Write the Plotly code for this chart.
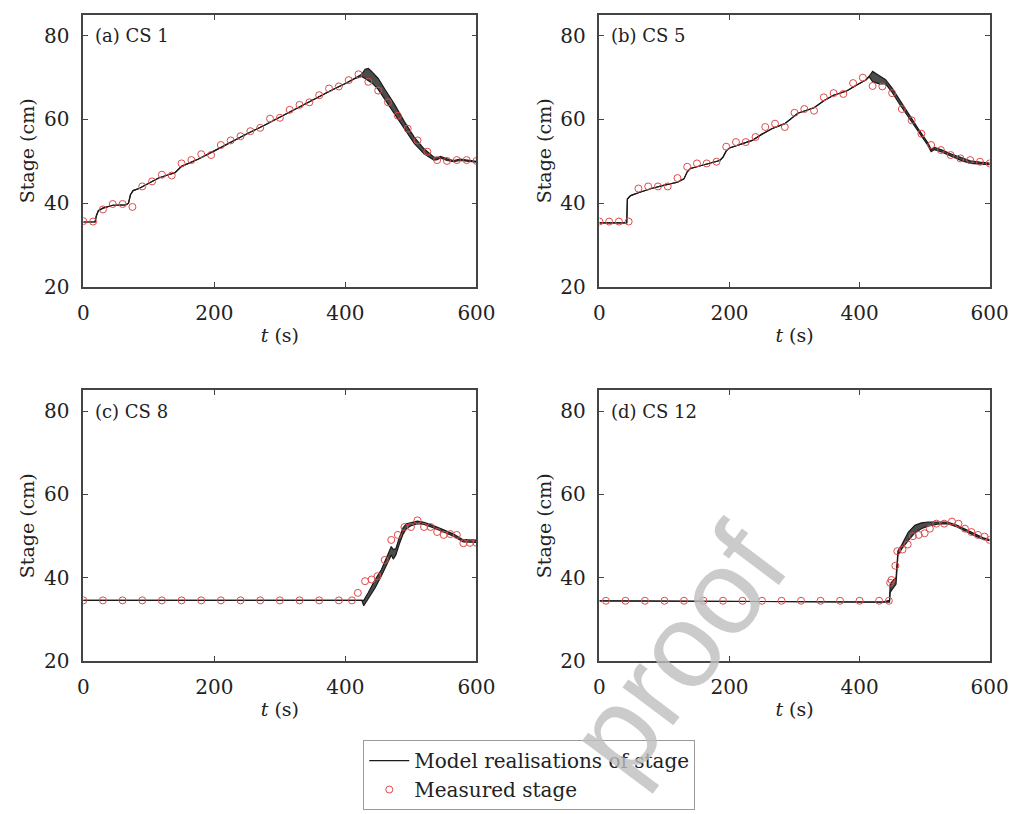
import plotly.graph_objects as go

# ---------------- Data ----------------
panel_labels = ["(a) CS 1", "(b) CS 5", "(c) CS 8", "(d) CS 12"]
x_ticks = [0, 200, 400, 600]
y_ticks = [20, 40, 60, 80]

# (a) CS 1
t_meas_a = [0, 15, 30, 45, 60, 75, 90, 105, 120, 135, 150, 165, 180, 195, 210, 225, 240, 255, 270, 285,
            300, 315, 330, 345, 360, 375, 390, 405, 420, 435, 450, 465, 480, 495, 510, 525, 540, 555, 570, 585, 600]
meas_a = [35.7, 35.6, 38.5, 39.8, 39.8, 39.1, 44.0, 45.2, 46.8, 46.6, 49.5, 50.3, 51.7, 51.5, 53.9, 55.0,
          56.0, 57.2, 58.0, 60.2, 60.4, 62.3, 63.5, 64.1, 65.8, 67.4, 67.9, 69.4, 70.8, 69.0, 66.9, 64.1,
          60.9, 57.8, 55.0, 52.3, 50.3, 50.1, 50.3, 50.3, 50.1]
t_model_a = [0, 18, 20, 23, 30, 45, 65, 69, 72, 76, 85, 100, 115, 130, 140, 150, 175, 200, 225, 250, 275,
             300, 325, 350, 375, 400, 415, 425, 430, 435, 440, 450, 460, 475, 490, 505, 520, 535, 540, 545,
             555, 565, 575, 590, 600]
model_low_a = [35.5, 35.5, 37.0, 38.2, 38.8, 39.5, 39.6, 40.0, 42.0, 43.0, 43.5, 44.8, 46.0, 46.8, 47.3,
               48.8, 50.5, 52.5, 54.6, 56.6, 58.5, 60.6, 62.6, 64.6, 66.7, 68.6, 69.8, 70.3, 69.8, 69.3,
               68.8, 67.2, 64.8, 61.2, 57.6, 54.3, 51.8, 50.3, 50.4, 50.8, 50.2, 49.9, 50.2, 50.0, 49.8]
model_high_a = [35.5, 35.5, 37.0, 38.2, 38.8, 39.5, 39.6, 40.0, 42.0, 43.0, 43.5, 44.8, 46.0, 46.8, 47.3,
                48.8, 50.5, 52.5, 54.6, 56.6, 58.5, 60.6, 62.6, 64.6, 66.7, 68.6, 69.8, 70.8, 72.0, 72.2,
                71.5, 69.8, 67.3, 63.6, 59.5, 55.8, 53.0, 51.0, 50.8, 51.2, 50.6, 50.2, 50.5, 50.3, 50.0]

# (b) CS 5
t_meas_b = [0, 15, 30, 45, 60, 75, 90, 105, 120, 135, 150, 165, 180, 195, 210, 225, 240, 255, 270, 285,
            300, 315, 330, 345, 360, 375, 390, 405, 420, 435, 450, 465, 480, 495, 510, 525, 540, 555, 570, 585, 600]
meas_b = [35.6, 35.6, 35.6, 35.6, 43.5, 44.0, 44.0, 44.0, 46.0, 48.7, 49.5, 49.5, 49.9, 53.5, 54.6, 54.6,
          55.8, 58.2, 59.0, 58.2, 61.6, 62.5, 62.1, 65.3, 66.3, 66.1, 68.7, 70.0, 68.0, 67.9, 66.3, 62.5,
          59.8, 56.6, 53.9, 52.7, 51.5, 50.7, 50.3, 49.9, 49.5]
t_model_b = [0, 42, 43, 48, 60, 80, 100, 120, 130, 135, 140, 160, 185, 190, 195, 200, 215, 235, 250, 265,
             285, 295, 305, 330, 345, 360, 380, 395, 410, 415, 420, 425, 430, 440, 450, 460, 475, 490, 505,
             510, 515, 525, 540, 555, 570, 585, 600]
model_low_b = [35.3, 35.3, 41.0, 41.8, 42.5, 43.5, 44.3, 45.0, 45.8, 47.5, 48.3, 49.2, 50.2, 51.0, 52.5,
               53.2, 54.0, 55.0, 56.5, 57.8, 59.0, 60.2, 61.5, 62.8, 64.5, 65.8, 66.8, 68.2, 69.5, 70.2,
               69.0, 68.8, 68.5, 68.5, 66.5, 64.0, 60.5, 57.0, 53.8, 52.3, 52.8, 52.3, 51.2, 50.3, 49.5,
               49.4, 49.2]
model_high_b = [35.3, 35.3, 41.0, 41.8, 42.5, 43.5, 44.3, 45.0, 45.8, 47.5, 48.3, 49.2, 50.2, 51.0, 52.5,
                53.2, 54.0, 55.0, 56.5, 57.8, 59.0, 60.2, 61.5, 62.8, 64.5, 65.8, 66.8, 68.2, 69.5, 70.4,
                71.5, 71.0, 70.5, 69.5, 67.5, 65.0, 61.3, 57.8, 54.4, 52.8, 53.3, 52.8, 51.8, 50.9, 50.1,
                49.8, 49.6]

# (c) CS 8
t_meas_c = [0, 30, 60, 90, 120, 150, 180, 210, 240, 270, 300, 330, 360, 390, 410, 419, 430, 440, 449, 460,
            470, 480, 490, 500, 510, 520, 530, 540, 550, 560, 570, 580, 590, 600]
meas_c = [34.6, 34.6, 34.6, 34.6, 34.6, 34.6, 34.6, 34.6, 34.6, 34.6, 34.6, 34.6, 34.6, 34.6, 34.6, 36.4,
          39.2, 39.6, 40.4, 44.3, 49.1, 50.3, 52.2, 52.2, 53.8, 52.2, 52.2, 51.0, 50.3, 50.5, 50.3, 48.3,
          48.4, 48.4]
t_model_c = [0, 425, 428, 435, 445, 455, 465, 470, 473, 477, 482, 488, 493, 500, 510, 520, 535, 550, 565,
             580, 590, 600]
model_low_c = [34.6, 34.6, 33.3, 35.0, 37.5, 40.5, 44.0, 45.5, 44.5, 45.5, 48.0, 50.5, 51.8, 52.5, 53.0,
               52.8, 52.0, 51.0, 50.0, 48.6, 48.6, 48.5]
model_high_c = [34.6, 34.6, 34.6, 36.5, 39.5, 42.0, 45.5, 47.5, 46.8, 47.0, 49.5, 52.0, 53.0, 53.3, 53.6,
                53.3, 52.5, 51.5, 50.5, 49.1, 49.2, 49.0]

# (d) CS 12
t_meas_d = [10, 40, 70, 100, 130, 160, 190, 220, 250, 280, 310, 340, 370, 400, 430, 445, 447, 449, 455,
            458, 466, 474, 482, 491, 500, 508, 518, 530, 542, 552, 562, 572, 582, 592, 600]
meas_d = [34.5, 34.5, 34.5, 34.5, 34.5, 34.5, 34.5, 34.5, 34.5, 34.5, 34.5, 34.5, 34.5, 34.5, 34.5, 34.5,
          38.8, 39.5, 42.9, 46.4, 46.8, 48.0, 50.0, 50.3, 50.7, 51.8, 53.0, 53.0, 53.5, 53.0, 51.8, 51.0,
          50.3, 49.9, 49.1]
t_model_d = [0, 435, 446, 447, 452, 456, 459, 465, 475, 485, 495, 505, 520, 535, 550, 565, 580, 590, 600]
model_low_d = [34.5, 34.2, 34.2, 36.5, 37.8, 38.5, 45.5, 47.0, 49.0, 50.8, 51.8, 52.4, 52.9, 53.0, 52.2,
               51.0, 49.9, 49.3, 48.9]
model_high_d = [34.5, 34.2, 34.6, 38.5, 39.5, 40.0, 46.5, 48.0, 51.0, 52.6, 53.2, 53.4, 53.4, 53.4, 52.6,
                51.4, 50.3, 49.6, 49.2]

panels = [
    (t_meas_a, meas_a, t_model_a, model_low_a, model_high_a),
    (t_meas_b, meas_b, t_model_b, model_low_b, model_high_b),
    (t_meas_c, meas_c, t_model_c, model_low_c, model_high_c),
    (t_meas_d, meas_d, t_model_d, model_low_d, model_high_d),
]

# ---------------- Layout geometry ----------------
W, H = 1028, 814
x_domains = [[71 / W, 474 / W], [600 / W, 1000 / W]]
y_domains = [[1 - 283 / H, 1 - 7 / H], [1 - 663 / H, 1 - 388 / H]]

SERIF = "DejaVu Serif"
AX_COL = "#444444"
MODEL_COL = "#1a1a1a"
MEAS_COL = "#e04a4a"

fig = go.Figure()

for i, (tm, ms, tmod, lo, hi) in enumerate(panels):
    xa = "x" if i == 0 else f"x{i + 1}"
    ya = "y" if i == 0 else f"y{i + 1}"
    fig.add_trace(go.Scatter(
        x=tmod, y=lo, mode="lines", xaxis=xa, yaxis=ya,
        line=dict(color=MODEL_COL, width=1.2),
        name="Model realisations of stage", showlegend=(i == 0),
        hoverinfo="skip"))
    fig.add_trace(go.Scatter(
        x=tmod, y=hi, mode="lines", xaxis=xa, yaxis=ya,
        line=dict(color=MODEL_COL, width=1.2),
        fill="tonexty", fillcolor="rgba(45,45,45,0.85)",
        showlegend=False, hoverinfo="skip"))
    fig.add_trace(go.Scatter(
        x=tm, y=ms, mode="markers", xaxis=xa, yaxis=ya,
        marker=dict(symbol="circle-open", size=7, color=MEAS_COL, line=dict(width=1)),
        name="Measured stage", showlegend=(i == 0)))

layout = dict(
    width=W, height=H,
    margin=dict(l=0, r=0, t=0, b=0),
    paper_bgcolor="white", plot_bgcolor="white",
    font=dict(family=SERIF, color="#222222"),
    showlegend=True,
    legend=dict(
        x=358 / W, y=1 - 743 / H, xanchor="left", yanchor="top",
        bordercolor="#9a9a9a", borderwidth=1, bgcolor="white",
        font=dict(family=SERIF, size=20, color="#222222"),
        traceorder="normal", tracegroupgap=0, itemwidth=40,
    ),
)

annotations = []
for i in range(4):
    col, row = i % 2, i // 2
    sfx = "" if i == 0 else str(i + 1)
    common_axis = dict(showline=True, linecolor=AX_COL, linewidth=1.5, mirror="allticks",
                       ticks="inside", ticklen=5, tickwidth=1, tickcolor=AX_COL,
                       showgrid=False, zeroline=False,
                       tickfont=dict(family=SERIF, size=20, color="#222222"))
    layout["xaxis" + sfx] = dict(
        domain=x_domains[col], range=[0, 600], tickvals=x_ticks,
        anchor="y" + sfx, ticklabelstandoff=7,
        title=dict(text="<i>t</i> (s)", font=dict(family=SERIF, size=19), standoff=5),
        **common_axis)
    layout["yaxis" + sfx] = dict(
        domain=y_domains[row], range=[20, 85], tickvals=y_ticks,
        anchor="x" + sfx, ticklabelstandoff=8,
        title=dict(text="Stage (cm)", font=dict(family=SERIF, size=19), standoff=4),
        **common_axis)
    annotations.append(dict(
        text=panel_labels[i], xref=f"x{sfx} domain", yref=f"y{sfx}",
        x=0.025, y=80, xanchor="left", yanchor="middle", showarrow=False,
        font=dict(family=SERIF, size=18, color="#222222")))

# watermark
annotations.append(dict(
    text="proof", xref="paper", yref="paper", x=680 / W, y=1 - 652 / H,
    xanchor="center", yanchor="middle", showarrow=False, textangle=-53,
    font=dict(family="Liberation Sans", size=120, color="rgba(190,190,190,0.8)")))

layout["annotations"] = annotations
fig.update_layout(**layout)

fig.write_html("out.html")
